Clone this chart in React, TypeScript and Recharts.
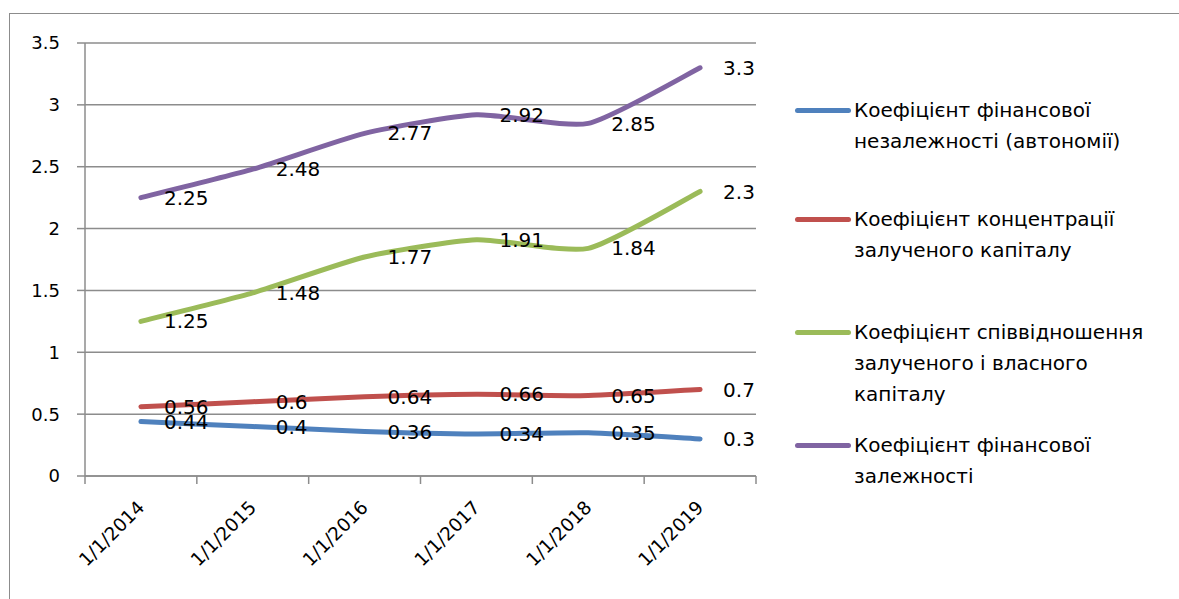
import { LineChart, Line, XAxis, YAxis, CartesianGrid, LabelList } from 'recharts';

const years = ['1/1/2014', '1/1/2015', '1/1/2016', '1/1/2017', '1/1/2018', '1/1/2019'];
const autonomy = [0.44, 0.4, 0.36, 0.34, 0.35, 0.3];
const concentration = [0.56, 0.6, 0.64, 0.66, 0.65, 0.7];
const debtEquity = [1.25, 1.48, 1.77, 1.91, 1.84, 2.3];
const dependence = [2.25, 2.48, 2.77, 2.92, 2.85, 3.3];
const yTicks = [0, 0.5, 1, 1.5, 2, 2.5, 3, 3.5];

const series = [
  { key: 'autonomy', name: 'Коефіцієнт фінансової незалежності (автономії)', color: '#4F81BD', top: 110 },
  { key: 'concentration', name: 'Коефіцієнт концентрації залученого капіталу', color: '#C0504D', top: 219 },
  { key: 'debtEquity', name: 'Коефіцієнт співвідношення залученого і власного капіталу', color: '#9BBB59', top: 332 },
  { key: 'dependence', name: 'Коефіцієнт фінансової залежності', color: '#8064A2', top: 445 },
];

const data = years.map((year, i) => ({
  year,
  autonomy: autonomy[i],
  concentration: concentration[i],
  debtEquity: debtEquity[i],
  dependence: dependence[i],
}));

const FONT = '"DejaVu Sans", "Noto Sans", sans-serif';
const GRID = '#8C8C8C';
const PLOT_W = 671;
const BAND = PLOT_W / years.length;

// gently smoothed line, close to Excel's "smoothed line" look
function excelCurve(context: any) {
  let pts: number[][] = [];
  return {
    areaStart() {},
    areaEnd() {},
    lineStart() {
      pts = [];
    },
    point(x: number, y: number) {
      pts.push([+x, +y]);
    },
    lineEnd() {
      if (!pts.length) return;
      context.moveTo(pts[0][0], pts[0][1]);
      const t = 0.1;
      for (let i = 0; i < pts.length - 1; i++) {
        const p0 = pts[i - 1] || pts[i];
        const p1 = pts[i];
        const p2 = pts[i + 1];
        const p3 = pts[i + 2] || p2;
        context.bezierCurveTo(
          p1[0] + (p2[0] - p0[0]) * t,
          p1[1] + (p2[1] - p0[1]) * t,
          p2[0] - (p3[0] - p1[0]) * t,
          p2[1] - (p3[1] - p1[1]) * t,
          p2[0],
          p2[1],
        );
      }
    },
  };
}

function XTick({ x, y, payload, index }: any) {
  const left = x - BAND / 2;
  return (
    <g>
      <line x1={left} x2={left} y1={y} y2={y + 8} stroke={GRID} strokeWidth={1.5} />
      {index === years.length - 1 && (
        <line x1={x + BAND / 2} x2={x + BAND / 2} y1={y} y2={y + 8} stroke={GRID} strokeWidth={1.5} />
      )}
      <text
        transform={`translate(${x},${y + 28}) rotate(-45)`}
        textAnchor="end"
        dy="0.35em"
        fontSize={18.5}
        fontFamily={FONT}
        fill="#000"
      >
        {payload.value}
      </text>
    </g>
  );
}

export default function App() {
  return (
    <div style={{ position: 'absolute', left: 0, top: 0, width: 1179, height: 599, background: '#fff', overflow: 'hidden' }}>
      <div
        style={{
          position: 'absolute',
          left: 9,
          top: 13,
          width: 1300,
          height: 700,
          border: `1.5px solid ${GRID}`,
        }}
      />
      <LineChart
        width={1179}
        height={599}
        data={data}
        margin={{ top: 43, right: 1179 - 756, bottom: 599 - 476 - 30, left: 0 }}
        style={{ position: 'absolute', left: 0, top: 0 }}
      >
        <CartesianGrid horizontal vertical={false} stroke={GRID} strokeWidth={1.5} />
        <XAxis
          dataKey="year"
          height={30}
          padding={{ left: BAND / 2, right: BAND / 2 }}
          tick={<XTick />}
          tickLine={false}
          tickSize={0}
          tickMargin={0}
          interval={0}
          axisLine={{ stroke: GRID, strokeWidth: 1.5 }}
        />
        <YAxis
          width={85}
          domain={[0, 3.5]}
          ticks={yTicks}
          interval={0}
          tickSize={8}
          tickMargin={17}
          tickLine={{ stroke: GRID, strokeWidth: 1.5 }}
          axisLine={{ stroke: GRID, strokeWidth: 1.5 }}
          tick={{ fontSize: 18, fontFamily: FONT, fill: '#000' }}
        />
        {series.map((s) => (
          <Line
            key={s.key}
            dataKey={s.key}
            name={s.name}
            type={excelCurve as any}
            stroke={s.color}
            strokeWidth={5}
            strokeLinecap="round"
            dot={false}
            activeDot={false}
            isAnimationActive={false}
          >
            <LabelList
              dataKey={s.key}
              position="right"
              offset={23}
              style={{ fontSize: 20, fontFamily: FONT, fill: '#000' }}
            />
          </Line>
        ))}
      </LineChart>
      {series.map((s) => (
        <div key={s.key} style={{ position: 'absolute', left: 795, top: s.top - 15.5, display: 'flex', alignItems: 'flex-start' }}>
          <div style={{ width: 56, height: 5, borderRadius: 3, background: s.color, marginTop: 13 }} />
          <div
            style={{
              marginLeft: 3,
              width: 312,
              fontFamily: FONT,
              fontSize: 20,
              lineHeight: '31px',
              color: '#000',
            }}
          >
            {s.name}
          </div>
        </div>
      ))}
    </div>
  );
}
